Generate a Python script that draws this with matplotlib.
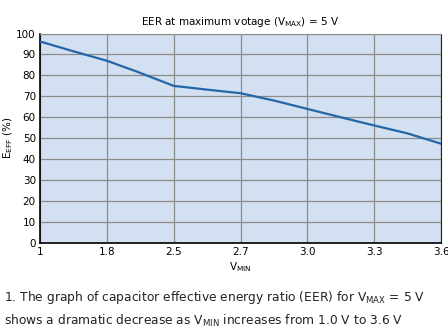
import matplotlib.pyplot as plt

# x axis is categorical: evenly spaced V_MIN labels
vmin_labels = ['1', '1.8', '2.5', '2.7', '3.0', '3.3', '3.6']
# curve positions (category index) and EER values
curve_pos = [0, 0.5, 1, 1.45, 2, 2.5, 3, 3.5, 4, 4.5, 5, 5.5, 6]
eer = [96.2, 91.5, 87.0, 81.8, 75.0, 73.2, 71.5, 68.0, 64.0, 60.0, 56.1, 52.3, 47.4]
y_ticks = list(range(0, 101, 10))

fig = plt.figure(figsize=(4.48, 3.34), dpi=100)
ax = fig.add_axes([0.0893, 0.2725, 0.8951, 0.6272])
ax.set_facecolor('#d3e0f1')

ax.plot(curve_pos, eer, color='#2466a8', lw=1.6, solid_capstyle='round', zorder=3)

ax.set_xlim(0, len(vmin_labels) - 1)
ax.set_ylim(0, 100)
ax.set_xticks(range(len(vmin_labels)))
ax.set_xticklabels(vmin_labels)
ax.set_yticks(y_ticks)
ax.grid(True, color='#8c8c8c', lw=0.9)
ax.set_axisbelow(True)
ax.tick_params(length=0, labelsize=7.5, pad=3)

for side in ['left', 'bottom']:
    ax.spines[side].set_color('black')
    ax.spines[side].set_linewidth(1.2)
ax.spines['top'].set_color('#8c8c8c')
ax.spines['right'].set_color('#222222')

ax.set_title(r'EER at maximum votage (V$_\mathregular{MAX}$) = 5 V', fontsize=7.5, pad=6)
ax.set_xlabel(r'V$_\mathregular{MIN}$', fontsize=7.5, labelpad=2)
ax.set_ylabel(r'E$_\mathregular{EFF}$ (%)', fontsize=7.5, labelpad=1)

fig.text(0.008, 0.11, r'1. The graph of capacitor effective energy ratio (EER) for V$_\mathregular{MAX}$ = 5 V',
         fontsize=8.8, color='#222222', ha='left', va='center')
fig.text(0.008, 0.038, r'shows a dramatic decrease as V$_\mathregular{MIN}$ increases from 1.0 V to 3.6 V',
         fontsize=8.8, color='#222222', ha='left', va='center')

fig.savefig('out.png', dpi=100)
